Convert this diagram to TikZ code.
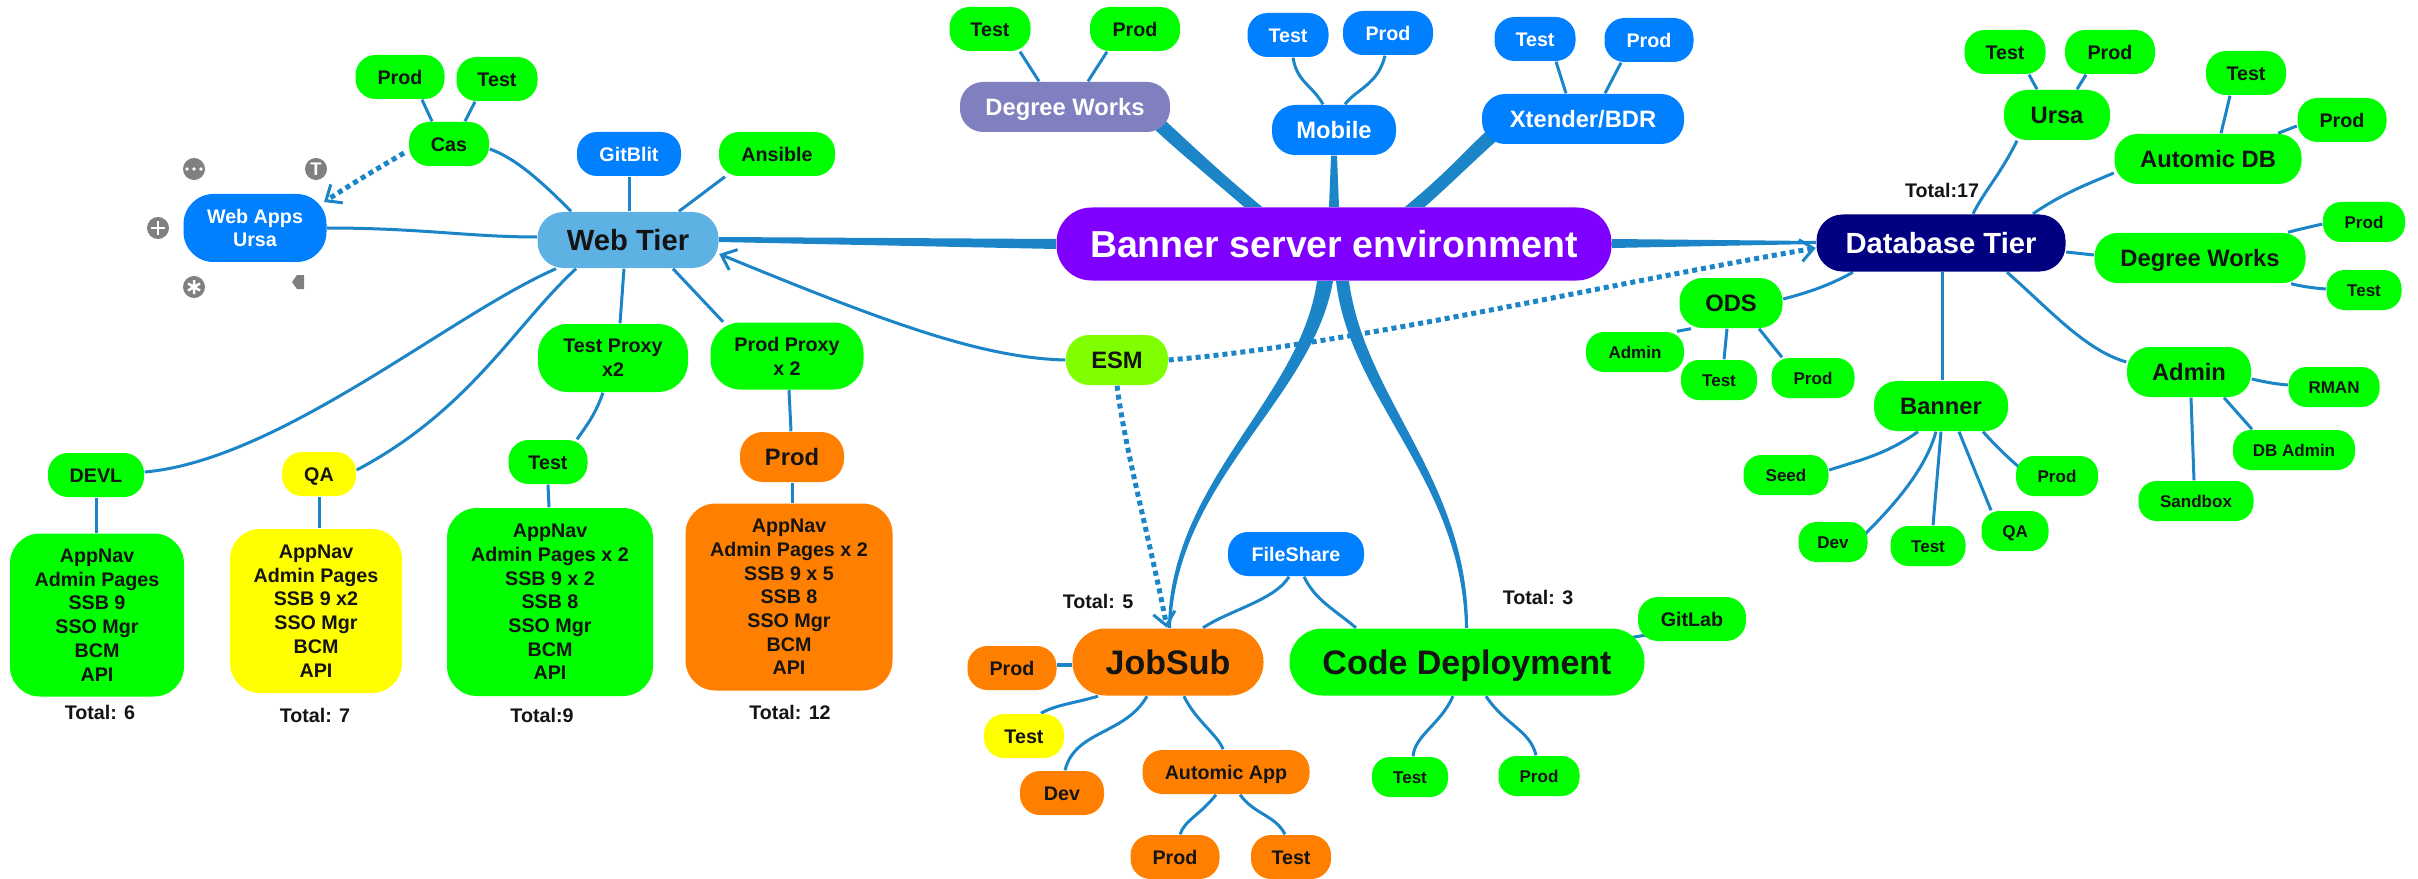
\documentclass[tikz,border=0pt]{standalone}
\usepackage{fontspec}
\setmainfont{Liberation Sans}
\usetikzlibrary{calc,arrows.meta}
\pgfdeclarelayer{bg}
\pgfsetlayers{bg,main}
\definecolor{cgreen}{HTML}{00FF00}
\definecolor{cyellow}{HTML}{FFFF00}
\definecolor{corange}{HTML}{FF8000}
\definecolor{cblue}{HTML}{0080FF}
\definecolor{cpurple}{HTML}{8000FF}
\definecolor{cnavy}{HTML}{000080}
\definecolor{csky}{HTML}{5DB1E3}
\definecolor{cslate}{HTML}{8080C0}
\definecolor{clime}{HTML}{80FF00}
\definecolor{clink}{HTML}{1B85C7}
\definecolor{cicon}{HTML}{808080}
\definecolor{cink}{HTML}{141414}
\tikzset{
  x=0.01cm,y=-0.01cm,
  wh/.style 2 args={minimum width=#1*0.01cm,minimum height=#2*0.01cm},
  ox/.style={xshift=#1*0.01cm},
  oy/.style={yshift=-#1*0.01cm},
  nd/.style={inner sep=0pt,align=center,rounded corners=0.2cm,text=cink},
  fa/.style={font=\fontsize{4.84pt}{6pt}\selectfont\bfseries,text height=3.47pt,text depth=0pt},
  fb/.style={font=\fontsize{5.6pt}{6.75pt}\selectfont\bfseries,text height=4pt,text depth=0pt},
  fbm/.style={font=\fontsize{5.6pt}{6.75pt}\selectfont\bfseries},
  fc/.style={font=\fontsize{6.75pt}{8pt}\selectfont\bfseries,text height=4.83pt,text depth=0pt},
  fd/.style={font=\fontsize{8.3pt}{10pt}\selectfont\bfseries,text height=5.94pt,text depth=0pt},
  fe/.style={font=\fontsize{9.67pt}{11pt}\selectfont\bfseries,text height=6.92pt,text depth=0pt},
  ff/.style={font=\fontsize{10.67pt}{12pt}\selectfont\bfseries,text height=7.64pt,text depth=0pt},
  green/.style={nd,fill=cgreen},
  yel/.style={nd,fill=cyellow},
  org/.style={nd,fill=corange},
  blu/.style={nd,fill=cblue,text=white},
  big/.style={rounded corners=0.23cm},
  tall/.style={rounded corners=0.3cm},
  huge/.style={rounded corners=0.33cm},
  sm/.style={rounded corners=0.18cm},
  totallabel/.style={inner sep=0pt,text=cink,fb},
  icon/.style={circle,fill=cicon,inner sep=0pt,minimum size=0.22cm,text=white,font=\fontsize{5.2pt}{5.5pt}\selectfont\bfseries},
  iconmark/.style={draw=white,line width=0.025cm},
  link/.style={draw=clink,line width=0.03cm},
  branch/.style={fill=clink},
  dots/.style={draw=clink,line width=0.05cm,dash pattern=on 0.05cm off 0.04cm},
  barb/.style={-{Straight Barb[length=0.13cm,width=0.22cm,line width=0.03cm]}},
}
\begin{document}
\begin{tikzpicture}
\useasboundingbox (0,0) rectangle (2418,879);
% centre
\node[nd,huge,rounded corners=0.35cm,fill=cpurple,text=white,ff,wh={555}{73}] (banner) at (1334,244) {Banner server environment};
% web tier
\node[nd,rounded corners=0.26cm,fill=csky,fd,wh={181}{56}] (webtier) at (628,240) {Web Tier};
\node[green,fb,wh={89}{44}] (casprod) at (400,77) {Prod};
\node[green,fb,wh={81}{44}] (castest) at (497,79) {Test};
\node[green,fb,wh={80}{44}] (cas) at (449,144) {Cas};
\node[blu,fb,wh={104}{44}] (gitblit) at (629,154) {GitBlit};
\node[green,fb,wh={116}{44}] (ansible) at (777,154) {Ansible};
\node[blu,tall,fbm,wh={143}{68}] (webapps) at (255,228) {Web Apps\\Ursa};
\node[green,tall,fbm,wh={150}{68}] (testproxy) at (613,358) {Test Proxy\\x2};
\node[green,tall,fbm,wh={153}{67}] (prodproxy) at (787,356) {Prod Proxy\\x 2};
\node[green,fb,wh={96}{44}] (devl) at (96,475) {DEVL};
\node[yel,fb,wh={74}{44}] (qa) at (319,474) {QA};
\node[green,fb,wh={79}{44}] (testenv) at (548,462) {Test};
\node[org,big,fc,wh={104}{50}] (prodenv) at (792,457) {Prod};
\node[green,tall,fbm,wh={174}{163}] (boxa) at (97,615) {AppNav\\Admin Pages\\SSB 9\\SSO Mgr\\BCM\\API};
\node[yel,tall,fbm,wh={172}{164}] (boxb) at (316,611) {AppNav\\Admin Pages\\SSB 9 x2\\SSO Mgr\\BCM\\API};
\node[green,tall,fbm,wh={206}{188}] (boxc) at (550,602) {AppNav\\Admin Pages x 2\\SSB 9 x 2\\SSB 8\\SSO Mgr\\BCM\\API};
\node[org,tall,fbm,wh={207}{187}] (boxd) at (789,597) {AppNav\\Admin Pages x 2\\SSB 9 x 5\\SSB 8\\SSO Mgr\\BCM\\API};
\node[totallabel] (tota) at (100,712) {Total: 6};
\node[totallabel] (totb) at (315,715) {Total: 7};
\node[totallabel] (totc) at (542,715) {Total:9};
\node[totallabel] (totd) at (790,712) {Total: 12};
% icons round Web Apps
\node[icon] (icondots) at (194,169) {};
\fill[white] (187,169) circle (1.8) (194,169) circle (1.8) (201,169) circle (1.8);
\node[icon] (icont) at (316,169) {T};
\node[icon] (iconplus) at (158,228) {};
\draw[iconmark] (151,228) -- (165,228) (158,221) -- (158,235);
\node[icon] (iconstar) at (194,287) {};
\draw[iconmark] (194,280) -- (194,294) (188,283.5) -- (200,290.5) (188,290.5) -- (200,283.5);
\fill[cicon] (292,282) -- (297,275) -- (304,275) -- (304,289) -- (297,289) -- cycle;
% top
\node[green,fb,wh={81}{44}] (dwtest) at (990,29) {Test};
\node[green,fb,wh={90}{44}] (dwprod) at (1135,29) {Prod};
\node[nd,big,fill=cslate,text=white,fc,wh={210}{50}] (dw) at (1065,107) {Degree Works};
\node[blu,fb,wh={81}{44}] (mtest) at (1288,35) {Test};
\node[blu,fb,wh={90}{44}] (mprod) at (1388,33) {Prod};
\node[blu,big,fc,wh={124}{50}] (mobile) at (1334,130) {Mobile};
\node[blu,fb,wh={81}{44}] (xtest) at (1535,39) {Test};
\node[blu,fb,wh={89}{44}] (xprod) at (1649,40) {Prod};
\node[blu,big,fc,wh={202}{50}] (xt) at (1583,119) {Xtender/BDR};
\node[nd,big,fill=clime,fc,wh={102}{50}] (esm) at (1117,360) {ESM};
% database tier
\node[nd,rounded corners=0.26cm,fill=cnavy,text=white,fd,wh={249}{57}] (db) at (1941,243) {Database Tier};
\node[totallabel] (totdb) at (1942,190) {Total:17};
\node[green,fb,wh={81}{44}] (utest) at (2005,52) {Test};
\node[green,fb,wh={90}{44}] (uprod) at (2110,52) {Prod};
\node[green,big,fc,wh={106}{50}] (ursa) at (2057,115) {Ursa};
\node[green,fb,wh={80}{44}] (atest) at (2246,73) {Test};
\node[green,fb,wh={89}{44}] (aprod) at (2342,120) {Prod};
\node[green,big,fc,wh={187}{50}] (automic) at (2208,159) {Automic DB};
\node[green,big,fc,wh={211}{50}] (ddw) at (2200,258) {Degree Works};
\node[green,sm,fa,wh={82}{40}] (dprod) at (2364,222) {Prod};
\node[green,sm,fa,wh={75}{40}] (dtest) at (2364,290) {Test};
\node[green,big,fc,wh={103}{50}] (ods) at (1731,303) {ODS};
\node[green,sm,fa,wh={98}{40}] (oadmin) at (1635,352) {Admin};
\node[green,sm,fa,wh={76}{40}] (otest) at (1719,380) {Test};
\node[green,sm,fa,wh={83}{40}] (oprod) at (1813,378) {Prod};
\node[green,big,fc,wh={134}{50}] (bnr) at (1941,406) {Banner};
\node[green,sm,fa,wh={85}{40}] (bseed) at (1786,475) {Seed};
\node[green,sm,fa,wh={69}{40}] (bdev) at (1833,542) {Dev};
\node[green,sm,fa,wh={75}{40}] (btest) at (1928,546) {Test};
\node[green,sm,fa,wh={67}{40}] (bqa) at (2015,531) {QA};
\node[green,sm,fa,wh={82}{40}] (bprod) at (2057,476) {Prod};
\node[green,big,fc,wh={124}{50}] (admin) at (2189,372) {Admin};
\node[green,sm,fa,wh={91}{40}] (rman) at (2334,387) {RMAN};
\node[green,sm,fa,wh={122}{40}] (dbadmin) at (2294,450) {DB Admin};
\node[green,sm,fa,wh={115}{40}] (sandbox) at (2196,501) {Sandbox};
% bottom
\node[blu,fb,wh={136}{44}] (fileshare) at (1296,554) {FileShare};
\node[org,huge,fe,wh={191}{67}] (jobsub) at (1168,662) {JobSub};
\node[green,huge,fe,wh={355}{67}] (code) at (1467,662) {Code Deployment};
\node[totallabel] (totjob) at (1098,601) {Total: 5};
\node[totallabel] (totcode) at (1538,597) {Total: 3};
\node[green,fb,wh={108}{44}] (gitlab) at (1692,619) {GitLab};
\node[org,fb,wh={89}{44}] (jprod) at (1012,668) {Prod};
\node[yel,fb,wh={80}{44}] (jtest) at (1024,736) {Test};
\node[org,fb,wh={84}{44}] (jdev) at (1062,793) {Dev};
\node[org,fb,wh={167}{44}] (japp) at (1226,772) {Automic App};
\node[org,fb,wh={89}{44}] (japrod) at (1175,857) {Prod};
\node[org,fb,wh={80}{44}] (jatest) at (1291,857) {Test};
\node[green,sm,fa,wh={76}{40}] (ctest) at (1410,777) {Test};
\node[green,sm,fa,wh={81}{40}] (cprod) at (1539,776) {Prod};
\begin{pgfonlayer}{bg}
% dotted relations
\draw[dots,barb] (esm.east) .. controls (1350,345) and (1600,285) .. ([oy=5]db.west);
\draw[dots,barb] (esm.south) .. controls (1125,450) and (1150,540) .. ([ox=-1]jobsub.north);
\draw[dots,barb] ([ox=-45,oy=9]cas.center) .. controls (375,170) and (350,185) .. ([ox=69,oy=-26]webapps.center);
\draw[link,barb] (esm.west) .. controls (980,358) and (880,320) .. ([oy=14]webtier.east);
% tapered main branches
\fill[branch] ([oy=-5]banner.west) -- ([oy=-3]webtier.east) -- ([oy=2]webtier.east) -- ([oy=5]banner.west) -- cycle;
\fill[branch] ([oy=-5]banner.east) -- ([oy=-2]db.west) -- ([oy=1]db.west) -- ([oy=4]banner.east) -- cycle;
\fill[branch] ([ox=-90]banner.north) .. controls (1195,165) and (1165,140) .. ([ox=82,oy=15]dw.center) -- ([ox=93,oy=7]dw.center) .. controls (1178,132) and (1215,168) .. ([ox=-72]banner.north) -- cycle;
\fill[branch] ([ox=-5]banner.north) -- ([ox=-3]mobile.south) -- ([ox=3]mobile.south) -- ([ox=5]banner.north) -- cycle;
\fill[branch] ([ox=71]banner.north) .. controls (1450,170) and (1470,145) .. ([ox=-93,oy=9]xt.center) -- ([ox=-81,oy=17]xt.center) .. controls (1480,155) and (1455,180) .. ([ox=91]banner.north) -- cycle;
\fill[branch] ([ox=-17]banner.south) .. controls (1300,400) and (1170,480) .. (jobsub.north) -- ([ox=3]jobsub.north) .. controls (1176,480) and (1312,400) .. ([ox=-1]banner.south) -- cycle;
\fill[branch] ([ox=2]banner.south) .. controls (1350,400) and (1462,480) .. ([ox=-2]code.north) -- ([ox=1]code.north) .. controls (1468,480) and (1365,400) .. ([ox=15]banner.south) -- cycle;
% web tier links
\draw[link] ([ox=22]casprod.south) -- ([ox=-17]cas.north);
\draw[link] ([ox=-22]castest.south) -- ([ox=16]cas.north);
\draw[link] ([oy=5]cas.east) .. controls (515,158) and (540,180) .. ([ox=-57]webtier.north);
\draw[link] (gitblit.south) -- ([ox=1]webtier.north);
\draw[link] ([ox=-52]ansible.south) -- ([ox=51]webtier.north);
\draw[link] (webapps.east) .. controls (420,228) and (470,237) .. ([oy=-3]webtier.west);
\draw[link] ([ox=-72]webtier.south) .. controls (450,315) and (280,460) .. ([oy=-3]devl.east);
\draw[link] ([ox=-52]webtier.south) .. controls (515,325) and (470,410) .. ([oy=-4]qa.east);
\draw[link] ([ox=-4]webtier.south) -- ([ox=7]testproxy.north);
\draw[link] ([ox=45]webtier.south) -- ([ox=-64]prodproxy.north);
\draw[link] ([ox=-10]testproxy.south) .. controls (595,415) and (587,425) .. ([ox=29]testenv.north);
\draw[link] ([ox=2]prodproxy.south) -- ([ox=-1]prodenv.north);
\draw[link] (devl.south) -- ([ox=-1]boxa.north);
\draw[link] (qa.south) -- ([ox=3]boxb.north);
\draw[link] (testenv.south) -- ([ox=-1]boxc.north);
\draw[link] (prodenv.south) -- ([ox=3]boxd.north);
% top links
\draw[link] ([ox=30]dwtest.south) -- ([ox=-26]dw.north);
\draw[link] ([ox=-28]dwprod.south) -- ([ox=23]dw.north);
\draw[link] ([ox=5]mtest.south) .. controls (1297,82) and (1312,85) .. ([ox=-11]mobile.north);
\draw[link] ([ox=-3]mprod.south) .. controls (1378,85) and (1355,90) .. ([ox=11]mobile.north);
\draw[link] ([ox=21]xtest.south) -- ([ox=-17]xt.north);
\draw[link] ([ox=-28]xprod.south) -- ([ox=22]xt.north);
% database links
\draw[link] ([ox=24]utest.south) -- ([ox=-20]ursa.north);
\draw[link] ([ox=-24]uprod.south) -- ([ox=20]ursa.north);
\draw[link] ([ox=-40]ursa.south) .. controls (2000,175) and (1985,190) .. ([ox=32]db.north);
\draw[link] ([ox=-16]atest.south) -- ([ox=13]automic.north);
\draw[link] ([oy=6]aprod.west) -- ([ox=70]automic.north);
\draw[link] ([oy=14]automic.west) .. controls (2085,185) and (2060,195) .. ([ox=92]db.north);
\draw[link] ([oy=9]db.east) -- ([oy=-3]ddw.west);
\draw[link] ([oy=2]dprod.west) .. controls (2310,227) and (2300,229) .. ([ox=88]ddw.north);
\draw[link] ([oy=-1]dtest.west) .. controls (2312,288) and (2300,286) .. ([ox=91]ddw.south);
\draw[link] ([oy=-4]ods.east) .. controls (1810,292) and (1830,285) .. ([ox=-88]db.south);
\draw[link] ([ox=-40]ods.south) -- ([ox=42]oadmin.north);
\draw[link] ([ox=-4]ods.south) -- ([ox=5]otest.north);
\draw[link] ([ox=28]ods.south) -- ([ox=-31]oprod.north);
\draw[link] ([ox=1]db.south) -- ([ox=1]bnr.north);
\draw[link] ([ox=-23]bnr.south) .. controls (1885,455) and (1860,460) .. ([oy=-5]bseed.east);
\draw[link] ([ox=-5]bnr.south) .. controls (1925,470) and (1895,505) .. ([ox=24]bdev.center);
\draw[link] (bnr.south) -- ([ox=5]btest.north);
\draw[link] ([ox=18]bnr.south) -- ([ox=-24]bqa.north);
\draw[link] ([ox=42]bnr.south) .. controls (1995,445) and (2005,455) .. ([ox=-37,oy=-8]bprod.center);
\draw[link] ([ox=66]db.south) .. controls (2050,310) and (2085,350) .. ([oy=-10]admin.west);
\draw[link] ([oy=7]admin.east) .. controls (2265,382) and (2275,384) .. ([oy=-2]rman.west);
\draw[link] ([ox=35]admin.south) -- ([ox=-42]dbadmin.north);
\draw[link] ([ox=2]admin.south) -- ([ox=-2]sandbox.north);
% bottom links
\draw[link] ([ox=-7]fileshare.south) .. controls (1275,600) and (1230,610) .. ([ox=35]jobsub.north);
\draw[link] ([ox=8]fileshare.south) .. controls (1315,600) and (1335,610) .. ([ox=-111]code.north);
\draw[link] ([ox=150,oy=-22]code.center) -- ([ox=-40,oy=15]gitlab.center);
\draw[link,line width=0.04cm] ([oy=3]jobsub.west) -- ([oy=-3]jprod.east);
\draw[link] ([ox=-70]jobsub.south) .. controls (1075,703) and (1055,705) .. ([ox=17]jtest.north);
\draw[link] ([ox=-21]jobsub.south) .. controls (1125,735) and (1075,730) .. ([ox=3]jdev.north);
\draw[link] ([ox=16]jobsub.south) .. controls (1195,720) and (1218,735) .. ([ox=-3]japp.north);
\draw[link] ([ox=-10]japp.south) .. controls (1200,815) and (1185,820) .. ([ox=5]japrod.north);
\draw[link] ([ox=14]japp.south) .. controls (1255,815) and (1275,815) .. ([ox=-6]jatest.north);
\draw[link] ([ox=-14]code.south) .. controls (1440,725) and (1415,735) .. ([ox=3]ctest.north);
\draw[link] ([ox=19]code.south) .. controls (1505,725) and (1530,730) .. ([ox=-3]cprod.north);
\end{pgfonlayer}
\end{tikzpicture}
\end{document}
